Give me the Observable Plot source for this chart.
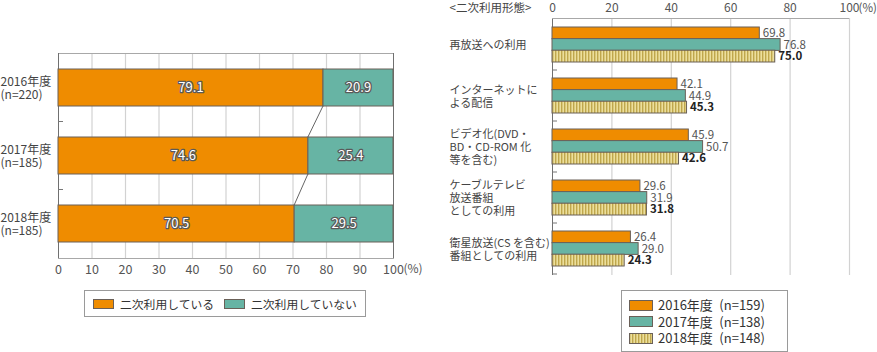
<!DOCTYPE html>
<html><head><meta charset="utf-8">
<script src="https://cdn.jsdelivr.net/npm/d3@7"></script>
<script src="https://cdn.jsdelivr.net/npm/@observablehq/plot@0.6"></script>
<style>
body{margin:0;background:#fff;font-family:"Noto Sans CJK JP","Noto Sans",sans-serif;color:#333}
#root{position:relative;width:877px;height:352px;overflow:hidden;background:#fff}
.legend{position:absolute;border:1px solid #9a9a9a;box-sizing:border-box;background:#fff;font-size:12px;color:#333}
.sw{position:absolute;box-sizing:border-box;border:1px solid #6a6058}
.lt{position:absolute;white-space:nowrap;line-height:16px}
</style></head><body>
<svg width="0" height="0" style="position:absolute"><defs>
<pattern id="hatch" width="3" height="6" patternUnits="userSpaceOnUse"><rect width="3" height="6" fill="#ecdf9c"/><rect x="0" width="1.4" height="6" fill="#bfa74c"/></pattern>
</defs></svg>
<div id="root"></div>
<script>
// ---- data: left chart ----
const years = ["2016年度", "2017年度", "2018年度"];
const leftN = ["(n=220)", "(n=185)", "(n=185)"];
const shareKeys = ["二次利用している", "二次利用していない"];
const usedShare = [79.1, 74.6, 70.5];
const unusedShare = [20.9, 25.4, 29.5];
const leftTicks = [0, 10, 20, 30, 40, 50, 60, 70, 80, 90, 100];

// ---- data: right chart ----
const usageTypes = ["再放送への利用", "インターネットに\nよる配信", "ビデオ化(DVD・\nBD・CD-ROM 化\n等を含む)", "ケーブルテレビ\n放送番組\nとしての利用", "衛星放送(CS を含む)\n番組としての利用"];
const rightYears = ["2016年度 (n=159)", "2017年度 (n=138)", "2018年度 (n=148)"];
const v2016 = [69.8, 42.1, 45.9, 29.6, 26.4];
const v2017 = [76.8, 44.9, 50.7, 31.9, 29.0];
const v2018 = [75.0, 45.3, 42.6, 31.8, 24.3];
const rightTicks = [0, 20, 40, 60, 80, 100];
const rightHeader = "<二次利用形態>";

const ORANGE = "#ef8c00", TEAL = "#67b4a4", HATCH = "url(#hatch)";
const EDGE = "#6a6058";
const FONT = '"Noto Sans CJK JP","Noto Sans",sans-serif';
const root = document.getElementById("root");

// ================= LEFT =================
const leftRows = years.flatMap((y, i) => [
  {year: y, key: shareKeys[0], v: usedShare[i]},
  {year: y, key: shareKeys[1], v: unusedShare[i]}
]);
const left = Plot.plot({
  width: 440, height: 285, marginTop: 53, marginBottom: 27, marginLeft: 58, marginRight: 47,
  style: {fontFamily: FONT, fontSize: "12px", color: "#333", background: "transparent"},
  x: {domain: [0, 100], axis: null},
  y: {domain: years, axis: null, paddingInner: 0.456, paddingOuter: 0.235},
  color: {domain: shareKeys, range: [ORANGE, TEAL]},
  marks: [
    Plot.ruleX(leftTicks.slice(1, -1), {stroke: "#d2d2d2", strokeWidth: 1.2}),
    Plot.frame({stroke: "#a8a8a8"}),
    Plot.ruleX([0, 100], {stroke: "#707070"}),
    Plot.barX(leftRows, Plot.stackX({x: "v", y: "year", fill: "key", stroke: EDGE, strokeWidth: 1})),
    Plot.text(leftRows, Plot.stackX({x: "v", y: "year", text: d => d.v.toFixed(1), fill: "white", stroke: "#5a5a5a", strokeWidth: 2.6, paintOrder: "stroke", fontSize: 13})),
    Plot.text(years.map((y, i) => ({y, t: y + "\n" + leftN[i]})), {y: "y", text: "t", frameAnchor: "left", dx: -58, textAnchor: "start", lineHeight: 1.1, fontSize: 12, fill: "#444"}),
    Plot.text(leftTicks, {x: d => d, text: d => String(d), frameAnchor: "bottom", dy: 11, lineAnchor: "middle", fontSize: 12.5, fill: "#555"}),
    Plot.text(["(%)"], {x: () => 100, text: d => d, frameAnchor: "bottom", dy: 11, dx: 10, textAnchor: "start", lineAnchor: "middle", fontSize: 12, fill: "#555"})
  ]
});
left.style.position = "absolute"; left.style.left = "0px"; left.style.top = "0px";
root.appendChild(left);
{
  const ys = left.scale("y"), xs = left.scale("x");
  const bw = ys.bandwidth, step = ys.step;
  const g = d3.select(left).append("g");
  for (let i = 0; i < years.length - 1; i++) {
    const yb = ys.apply(years[i]) + bw, yt = ys.apply(years[i + 1]);
    g.append("line").attr("x1", xs.apply(usedShare[i])).attr("x2", xs.apply(usedShare[i + 1]))
      .attr("y1", yb).attr("y2", yt).attr("stroke", "#666").attr("stroke-width", 1);
    const ym = yb + (step - bw) / 2;
    g.append("line").attr("x1", xs.apply(0)).attr("x2", xs.apply(0) + 5).attr("y1", ym).attr("y2", ym).attr("stroke", "#777");
  }
}

// ================= RIGHT =================
const RH = 282, RMT = 18, RMB = 7, PI = 0.32, PO = 0.17;
const rStep = (RH - RMT - RMB) / (usageTypes.length - PI + 2 * PO);
const rBw = rStep * (1 - PI), third = rBw / 3;
const series = [v2016, v2017, v2018];
const fills = [ORANGE, TEAL, HATCH];
const rows = k => usageTypes.map((c, i) => ({c, v: series[k][i]}));
const barMarks = [0, 1, 2].map(k => Plot.barX(rows(k), {
  x: "v", y: "c", fill: fills[k], stroke: EDGE, strokeWidth: 1,
  insetTop: third * k, insetBottom: third * (2 - k)
}));
const labelMarks = [0, 1, 2].map(k => Plot.text(rows(k), {
  x: "v", y: "c", text: d => d.v.toFixed(1), dy: third * (k - 1), dx: 3, textAnchor: "start",
  fontSize: 11.5, fill: k === 2 ? "#222" : "#555", fontWeight: k === 2 ? "bold" : "normal"
}));
const right = Plot.plot({
  width: 457, height: RH, marginTop: RMT, marginBottom: RMB, marginLeft: 132, marginRight: 28,
  style: {fontFamily: FONT, fontSize: "12px", color: "#333", background: "transparent"},
  x: {domain: [0, 100], axis: null},
  y: {domain: usageTypes, axis: null, paddingInner: PI, paddingOuter: PO},
  marks: [
    Plot.ruleX(rightTicks.slice(1), {stroke: "#d2d2d2", strokeWidth: 1.2}),
    Plot.ruleX([0], {stroke: "#707070"}),
    ...barMarks,
    ...labelMarks,
    Plot.text(usageTypes, {y: d => d, text: d => d, frameAnchor: "left", dx: -103, textAnchor: "start", lineHeight: 1.2, fontSize: 11, fill: "#444"}),
    Plot.text(rightTicks, {x: d => d, text: d => String(d), frameAnchor: "top", dy: -10, lineAnchor: "middle", fontSize: 12, fill: "#555"}),
    Plot.text(["(%)"], {x: () => 100, text: d => d, frameAnchor: "top", dy: -10, dx: 9, textAnchor: "start", lineAnchor: "middle", fontSize: 11.5, fill: "#555"}),
    Plot.text([rightHeader], {text: d => d, frameAnchor: "top-left", dx: -103, dy: -10, textAnchor: "start", lineAnchor: "middle", fontSize: 11.5, fill: "#444"})
  ]
});
right.style.position = "absolute"; right.style.left = "420px"; right.style.top = "0px";
root.appendChild(right);
{
  const ys = right.scale("y"), xs = right.scale("x");
  const bw = ys.bandwidth, step = ys.step;
  const g = d3.select(right).append("g");
  g.append("line").attr("x1", xs.apply(0)).attr("x2", xs.apply(100)).attr("y1", RMT + 0.5).attr("y2", RMT + 0.5).attr("stroke", "#a8a8a8");
  usageTypes.forEach(c => {
    const ym = Math.min(ys.apply(c) + bw + (step - bw) / 2, RH - RMB);
    g.append("line").attr("x1", xs.apply(0)).attr("x2", xs.apply(0) + 5).attr("y1", ym).attr("y2", ym).attr("stroke", "#777");
  });
}

// ================= LEGENDS =================
{
  const d = document.createElement("div");
  d.className = "legend";
  Object.assign(d.style, {left: "84px", top: "290px", width: "282px", height: "27px", fontSize: "11.8px"});
  const sx = [8, 139], tx = [35, 166], cols = [ORANGE, TEAL];
  shareKeys.forEach((t, i) => {
    const s = document.createElement("div");
    s.className = "sw";
    Object.assign(s.style, {left: sx[i] + "px", top: "8px", width: "21px", height: "10px", background: cols[i]});
    d.appendChild(s);
    const l = document.createElement("div");
    l.className = "lt"; l.textContent = t;
    Object.assign(l.style, {left: tx[i] + "px", top: "5px"});
    d.appendChild(l);
  });
  root.appendChild(d);
}
{
  const bg = [ORANGE, TEAL, HATCH];
  const d = document.createElement("div");
  d.className = "legend";
  Object.assign(d.style, {left: "621px", top: "290px", width: "167px", height: "62px", fontSize: "13px"});
  rightYears.forEach((t, i) => {
    const cy = 14 + i * 16.6;
    const s = document.createElementNS("http://www.w3.org/2000/svg", "svg");
    s.setAttribute("width", 24); s.setAttribute("height", 11);
    s.style.position = "absolute"; s.style.left = "7px"; s.style.top = (cy - 5.5) + "px";
    s.innerHTML = `<rect x="0.5" y="0.5" width="23" height="10" fill="${bg[i]}" stroke="${EDGE}"/>`;
    d.appendChild(s);
    const l = document.createElement("div");
    l.className = "lt"; l.textContent = t.replace(" ", "\u2002");
    Object.assign(l.style, {left: "36px", top: (cy - 8) + "px"});
    d.appendChild(l);
  });
  root.appendChild(d);
}
</script>
</body></html>
